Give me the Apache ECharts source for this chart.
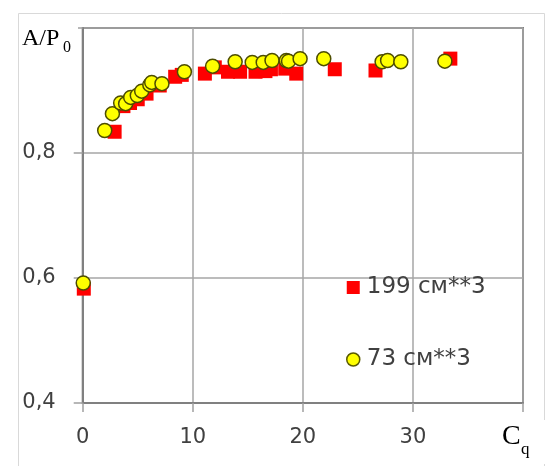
<!DOCTYPE html>
<html>
<head>
<meta charset="utf-8">
<script src="https://cdn.jsdelivr.net/npm/echarts@6/dist/echarts.min.js"></script>
<style>html,body{margin:0;padding:0;background:#fff}#c{width:551px;height:466px}</style>
</head>
<body>
<div id="c"></div>
<script>
var seriesNames = ['199 см**3', '73 см**3'];
var red199 = [
  [0.1, 0.583], [2.9, 0.834], [3.7, 0.875], [4.3, 0.880], [5.0, 0.886], [5.8, 0.895],
  [7.0, 0.908], [8.4, 0.922], [9.0, 0.925], [11.1, 0.927], [12.0, 0.937], [13.2, 0.930],
  [14.3, 0.930], [15.7, 0.930], [16.6, 0.931], [17.1, 0.934], [18.4, 0.935], [19.4, 0.927],
  [22.9, 0.934], [26.6, 0.932], [33.4, 0.951]
];
var yellow73 = [
  [0.05, 0.592], [2.0, 0.836], [2.7, 0.863], [3.45, 0.880], [3.9, 0.879], [4.36, 0.889],
  [4.96, 0.892], [5.36, 0.899], [6.1, 0.909], [6.27, 0.913], [7.2, 0.911], [9.24, 0.930],
  [11.8, 0.939], [13.85, 0.946], [15.4, 0.945], [16.4, 0.945], [17.2, 0.948], [18.5, 0.948],
  [18.7, 0.947], [19.75, 0.951], [21.9, 0.951], [27.2, 0.946], [27.7, 0.948], [28.9, 0.946],
  [32.9, 0.947]
];
var xTicks = {min: 0, max: 40, interval: 10};
var yTicks = {min: 0.4, max: 1.0, interval: 0.2};

var chart = echarts.init(document.getElementById('c'), null, {renderer: 'canvas'});
var labelFont = '"DejaVu Sans", "Noto Sans", sans-serif';
chart.setOption({
  backgroundColor: '#ffffff',
  animation: false,
  grid: {left: 82.7, right: 28, top: 28, bottom: 63, show: true, borderColor: '#808080', borderWidth: 2, containLabel: false},
  xAxis: {
    type: 'value', min: xTicks.min, max: xTicks.max, interval: xTicks.interval,
    axisLine: {show: true, lineStyle: {color: '#808080', width: 2}},
    axisTick: {show: true, length: 9, lineStyle: {color: '#a0a0a0', width: 1.5}},
    splitLine: {show: true, lineStyle: {color: '#a6a6a6', width: 1.5}},
    axisLabel: {
      margin: 24, fontSize: 21, color: '#404040', fontFamily: labelFont,
      formatter: function (v) { return v === 40 ? '' : String(v); }
    }
  },
  yAxis: {
    type: 'value', min: yTicks.min, max: yTicks.max, interval: yTicks.interval,
    axisLine: {show: true, lineStyle: {color: '#808080', width: 2}},
    axisTick: {show: true, length: 9, lineStyle: {color: '#a0a0a0', width: 1.5}},
    splitLine: {show: true, lineStyle: {color: '#a6a6a6', width: 1.5}},
    axisLabel: {
      margin: 27, fontSize: 21, color: '#404040', fontFamily: labelFont,
      formatter: function (v) { return Math.abs(v - 1) < 1e-6 ? '' : v.toFixed(1).replace('.', ','); }
    }
  },
  legend: {
    orient: 'vertical', left: 341, top: 271, itemGap: 49, itemWidth: 13, itemHeight: 13,
    textStyle: {fontSize: 23, color: '#404040', fontFamily: labelFont, padding: [0, 0, 0, 2]},
    data: [
      {name: seriesNames[0], icon: 'rect'},
      {name: seriesNames[1], icon: 'circle', itemStyle: {color: '#ffff00', borderColor: '#5a5a00', borderWidth: 1.5}}
    ]
  },
  series: [
    {
      name: seriesNames[0], type: 'scatter', data: red199, symbol: 'rect', symbolSize: 14,
      itemStyle: {color: '#ff0000', opacity: 1}, z: 2
    },
    {
      name: seriesNames[1], type: 'scatter', data: yellow73, symbol: 'circle', symbolSize: 14,
      itemStyle: {color: '#ffff00', borderColor: '#4d4d00', borderWidth: 1.5, opacity: 1}, z: 3
    }
  ],
  graphic: [
    {type: 'rect', silent: true, z: -10, shape: {x: 18.5, y: 13.5, width: 526, height: 470},
     style: {fill: null, stroke: '#d9d9d9', lineWidth: 1}},
    {type: 'rect', silent: true, z: 50, shape: {x: 20, y: 22, width: 58, height: 46}, style: {fill: '#ffffff'}},
    {type: 'text', silent: true, z: 51, left: 22, top: 27,
     style: {text: 'A/P', font: '24px "Liberation Serif", "DejaVu Serif", serif', fill: '#000000'}},
    {type: 'text', silent: true, z: 51, left: 63, top: 40,
     style: {text: '0', font: '16px "Liberation Serif", "DejaVu Serif", serif', fill: '#000000'}},
    {type: 'rect', silent: true, z: 50, shape: {x: 496, y: 420, width: 50, height: 44}, style: {fill: '#ffffff'}},
    {type: 'text', silent: true, z: 51, left: 502, top: 423,
     style: {text: 'C', font: '28px "Liberation Serif", "DejaVu Serif", serif', fill: '#000000'}},
    {type: 'text', silent: true, z: 51, left: 521, top: 441,
     style: {text: 'q', font: '17px "Liberation Serif", "DejaVu Serif", serif', fill: '#000000'}}
  ]
});
</script>
</body>
</html>
